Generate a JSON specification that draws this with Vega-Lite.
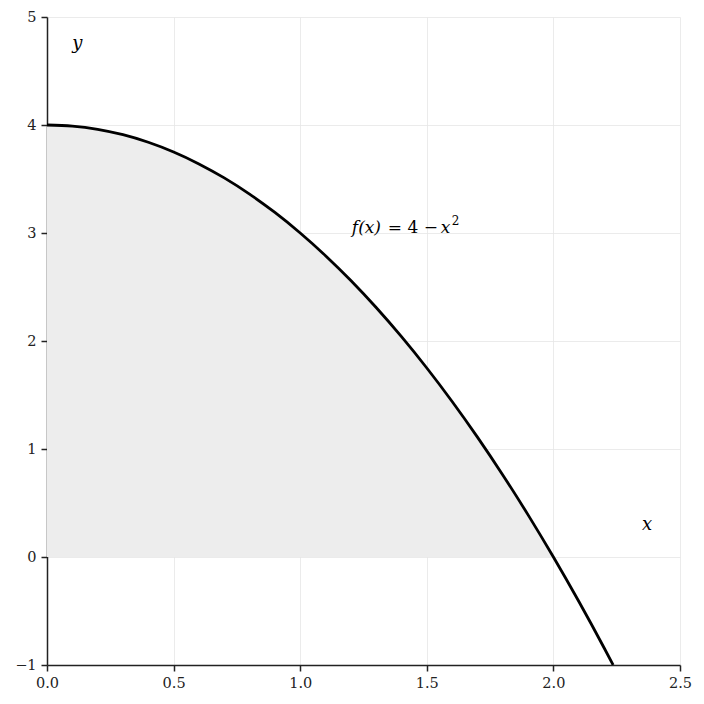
{
  "$schema": "https://vega.github.io/schema/vega-lite/v6.json",
  "autosize": "none",
  "width": 633,
  "height": 648,
  "padding": {"left": 47, "top": 17, "right": 24, "bottom": 39},
  "background": "white",
  "config": {
    "view": {"stroke": null},
    "axis": {
      "labelFont": "DejaVu Serif",
      "labelFontSize": 14.5,
      "labelColor": "#222",
      "labelPadding": 5,
      "domainColor": "#222",
      "domainWidth": 1.5,
      "tickColor": "#222",
      "tickWidth": 1.5,
      "tickSize": 6,
      "gridColor": "#e6e6e6",
      "gridWidth": 0.8,
      "title": null
    }
  },
  "datasets": {
    "curve": [
      {"x": 0.0, "y": 4.0},
      {"x": 0.1, "y": 3.99},
      {"x": 0.2, "y": 3.96},
      {"x": 0.3, "y": 3.91},
      {"x": 0.4, "y": 3.84},
      {"x": 0.5, "y": 3.75},
      {"x": 0.6, "y": 3.64},
      {"x": 0.7, "y": 3.51},
      {"x": 0.8, "y": 3.36},
      {"x": 0.9, "y": 3.19},
      {"x": 1.0, "y": 3.0},
      {"x": 1.1, "y": 2.79},
      {"x": 1.2, "y": 2.56},
      {"x": 1.3, "y": 2.31},
      {"x": 1.4, "y": 2.04},
      {"x": 1.5, "y": 1.75},
      {"x": 1.6, "y": 1.44},
      {"x": 1.7, "y": 1.11},
      {"x": 1.8, "y": 0.76},
      {"x": 1.9, "y": 0.39},
      {"x": 2.0, "y": 0.0},
      {"x": 2.1, "y": -0.41},
      {"x": 2.2, "y": -0.84},
      {"x": 2.236, "y": -1.0}
    ],
    "labels": [
      {"x": 0.1, "y": 4.7, "label": "y"},
      {"x": 2.35, "y": 0.25, "label": "x"}
    ]
  },
  "layer": [
    {
      "data": {"name": "curve"},
      "transform": [{"filter": "datum.x <= 2"}],
      "mark": {"type": "area", "color": "#ededed", "interpolate": "monotone"},
      "encoding": {
        "x": {"field": "x", "type": "quantitative", "scale": {"domain": [0, 2.5], "nice": false},
              "axis": {"values": [0, 0.5, 1.0, 1.5, 2.0, 2.5], "format": ".1f", "labelFlush": false}},
        "y": {"field": "y", "type": "quantitative", "scale": {"domain": [-1, 5], "nice": false},
              "axis": {"values": [-1, 0, 1, 2, 3, 4, 5], "format": "d"}},
        "y2": {"datum": 0}
      }
    },
    {
      "data": {"name": "curve"},
      "mark": {"type": "line", "color": "black", "strokeWidth": 2.8, "interpolate": "monotone", "clip": true},
      "encoding": {
        "x": {"field": "x", "type": "quantitative"},
        "y": {"field": "y", "type": "quantitative"}
      }
    },
    {
      "data": {"name": "labels"},
      "mark": {"type": "text", "align": "left", "baseline": "alphabetic", "font": "DejaVu Serif", "fontStyle": "italic", "fontSize": 18, "color": "black"},
      "encoding": {
        "x": {"field": "x", "type": "quantitative"},
        "y": {"field": "y", "type": "quantitative"},
        "text": {"field": "label"}
      }
    },
    {
      "data": {"values": [{"x": 1.2, "y": 3.0, "label": "f(x)"}]},
      "mark": {"type": "text", "align": "left", "baseline": "alphabetic", "font": "DejaVu Serif", "fontStyle": "italic", "fontSize": 17, "color": "black", "dx": 1},
      "encoding": {
        "x": {"field": "x", "type": "quantitative"},
        "y": {"field": "y", "type": "quantitative"},
        "text": {"field": "label"}
      }
    },
    {
      "data": {"values": [{"x": 1.2, "y": 3.0, "label": "= 4 −"}]},
      "mark": {"type": "text", "align": "left", "baseline": "alphabetic", "font": "DejaVu Serif", "fontSize": 17, "color": "black", "dx": 37},
      "encoding": {
        "x": {"field": "x", "type": "quantitative"},
        "y": {"field": "y", "type": "quantitative"},
        "text": {"field": "label"}
      }
    },
    {
      "data": {"values": [{"x": 1.2, "y": 3.0, "label": "x"}]},
      "mark": {"type": "text", "align": "left", "baseline": "alphabetic", "font": "DejaVu Serif", "fontStyle": "italic", "fontSize": 17, "color": "black", "dx": 90},
      "encoding": {
        "x": {"field": "x", "type": "quantitative"},
        "y": {"field": "y", "type": "quantitative"},
        "text": {"field": "label"}
      }
    },
    {
      "data": {"values": [{"x": 1.2, "y": 3.0, "label": "2"}]},
      "mark": {"type": "text", "align": "left", "baseline": "alphabetic", "font": "DejaVu Serif", "fontSize": 12, "color": "black", "dx": 101, "dy": -8},
      "encoding": {
        "x": {"field": "x", "type": "quantitative"},
        "y": {"field": "y", "type": "quantitative"},
        "text": {"field": "label"}
      }
    }
  ]
}
